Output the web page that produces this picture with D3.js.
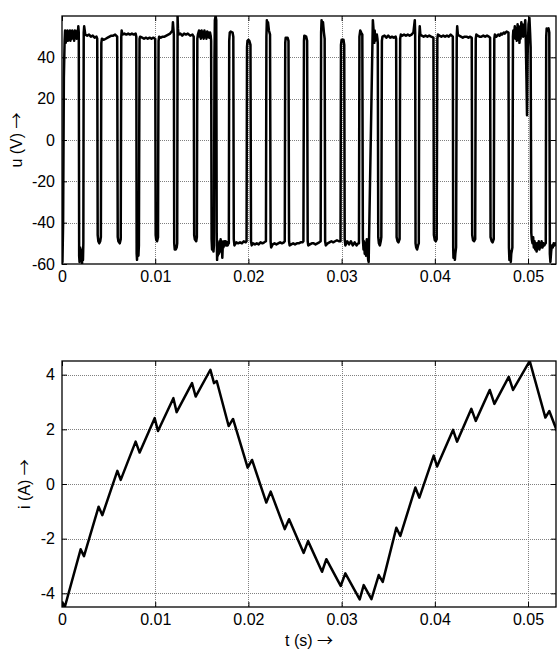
<!DOCTYPE html>
<html><head><meta charset="utf-8">
<script src="https://cdn.jsdelivr.net/npm/d3@7"></script>
<style>
html,body{margin:0;padding:0;background:#fff;}
svg{display:block;}
text{font-family:"Liberation Sans",Arial,Helvetica,sans-serif;fill:#000;}
</style></head><body>
<svg id="chart" width="557" height="651"></svg>
<script>
// Time axis (seconds)
const timeTicks = [0, 0.01, 0.02, 0.03, 0.04, 0.05];
const voltageTicks = [-60, -40, -20, 0, 20, 40];
const currentTicks = [-4, -2, 0, 2, 4];

// Converter output voltage u(t): [t (s), u (V)]
const voltage = [
  [0.0000,-56],[0.00005,-59],[0.00012,-40],[0.0002,30],[0.00028,48],[0.00033,53],[0.0004,47],[0.00045,52],
  [0.0005,49],[0.00058,53],[0.00065,48],[0.0007,52],[0.00078,50],[0.00085,53],[0.0009,48],[0.00098,51],
  [0.00105,49],[0.0011,53],[0.00118,50],[0.00125,52],[0.0013,48],[0.00138,53],[0.00145,50],[0.0015,52],
  [0.00158,49],[0.00165,53],[0.0017,51],[0.00175,55],
  [0.0018,52],[0.00184,-56],[0.00188,-59],[0.00195,-52],[0.002,-58],[0.0021,-54],[0.00215,-60],[0.0022,-53],
  [0.00225,-58],[0.00229,-50],[0.00233,52],[0.00238,55],
  [0.0025,51],[0.0027,50.5],[0.0029,51],[0.0031,50],[0.0033,50.5],[0.0035,49.5],[0.0037,50],
  [0.00378,49],[0.00383,-46],[0.0039,-49],[0.004,-50],[0.0041,-49],[0.00417,-47],[0.00422,47],[0.00428,49],
  [0.0045,48.5],[0.0047,49],[0.0049,49.5],[0.0051,50],[0.0053,50.5],[0.0055,50.5],[0.0057,51],
  [0.00592,50],[0.00598,-47],[0.00605,-49],[0.0062,-50],[0.0063,-48],[0.00636,50],[0.0064,53],[0.00648,51],
  [0.0067,51.5],[0.0069,51],[0.0071,51.5],[0.0073,51],[0.0075,51.5],[0.0077,51],[0.0079,51.5],
  [0.00797,50],[0.00801,-55],[0.00805,-58],[0.0081,-52],[0.0082,-56],[0.00825,-51],[0.00832,49],[0.00838,50],
  [0.0086,49.5],[0.0088,49],[0.009,49.5],[0.0092,49],[0.0094,49.5],[0.0096,49],[0.0098,49.5],
  [0.01,49],[0.01005,-46],[0.0101,-48],[0.0102,-49],[0.0103,-47],[0.01036,48],[0.01042,50],
  [0.0106,49.5],[0.0108,50],[0.011,50],[0.0112,50.5],[0.0114,51],[0.0116,51.5],[0.01185,53],[0.0119,57],
  [0.012,51],[0.01204,-50],[0.0121,-53],[0.0122,-53],[0.0123,-52],[0.01236,-50],[0.0124,60],[0.01244,54],[0.0125,51],
  [0.0127,51.5],[0.0129,50.5],[0.0131,51.5],[0.0133,51],[0.0135,51.5],[0.01375,50.5],[0.014,51],
  [0.01413,50],[0.01418,-46],[0.01425,-48],[0.0144,-49],[0.01447,-47],[0.01452,49],[0.01458,51],
  [0.0147,53],[0.01478,50],[0.01485,52.5],[0.0149,49],[0.01498,53],[0.01505,50],[0.01512,52],[0.0152,49],
  [0.01528,53],[0.01535,50.5],[0.01542,52],[0.0155,49],[0.01558,52.5],[0.01565,50],[0.01572,52],[0.0158,49.5],
  [0.01588,52],[0.01595,50.5],
  [0.016,48],[0.01605,-48],[0.0161,-53],[0.01618,-50],[0.01625,-54],[0.0163,-51],[0.01636,40],[0.0164,58],
  [0.01648,60],[0.01655,58],[0.0166,-45],[0.01664,-58],[0.01668,-52],[0.01672,-56],[0.01678,-50],[0.01684,-55],
  [0.0169,-49],[0.01696,-54],[0.01702,-48],[0.01708,-53],[0.01714,-49],[0.0172,-57],[0.01726,-50],[0.01732,-52],
  [0.0174,-49],[0.01748,-51],[0.01756,-49],[0.01764,-51],[0.0177,-49.5],[0.01778,-51],[0.01786,-50],
  [0.0179,-50],[0.01794,48],[0.018,52],[0.0181,52.5],[0.0183,52],[0.01838,50],[0.01843,-48],[0.0185,-51],
  [0.0187,-49.5],[0.0189,-50],[0.0191,-49.5],[0.0193,-50],[0.0195,-49],[0.0197,-49.5],
  [0.0198,-49],[0.01985,45],[0.0199,48],[0.02,48.5],[0.0201,48],[0.02022,46],[0.02028,-49],[0.02035,-51],
  [0.0205,-50],[0.0207,-50.5],[0.0209,-50],[0.0211,-50.5],[0.0213,-49.5],[0.0215,-50],[0.0217,-49.5],
  [0.02188,-49],[0.02193,50],[0.02198,58],[0.02205,54],[0.0221,57],[0.0222,53],[0.02232,51],[0.02238,-49],[0.02244,-52],
  [0.0226,-50.5],[0.0228,-50],[0.023,-50.5],[0.0232,-50],[0.0234,-49.5],[0.0236,-50],[0.0238,-49.5],
  [0.0239,-49],[0.02395,47],[0.024,49.5],[0.0242,49.5],[0.0243,48],[0.02436,-49],[0.02442,-51],
  [0.0246,-50.5],[0.0248,-50],[0.025,-50.5],[0.0252,-50],[0.0254,-50],[0.0256,-49.5],[0.0258,-49.5],
  [0.0259,-49],[0.02596,48],[0.026,50.5],[0.0262,50],[0.0263,48],[0.02636,-49],[0.02642,-51],
  [0.0266,-50.5],[0.0268,-50],[0.027,-50],[0.0272,-50.5],[0.0274,-50],[0.0276,-49.5],
  [0.02775,-49],[0.0278,52],[0.02785,58],[0.0279,54],[0.028,57],[0.0281,52],[0.02818,49],[0.02823,-49],[0.0283,-51],
  [0.0285,-50],[0.0287,-49.5],[0.0289,-49],[0.0291,-49.5],[0.0293,-49],[0.0295,-48.5],[0.0297,-49],
  [0.02988,-49],[0.02993,46],[0.03,48.5],[0.0302,48.5],[0.03028,46],[0.03033,-48],[0.0304,-51],
  [0.0306,-49],[0.0308,-50.5],[0.031,-49],[0.0312,-51],[0.0314,-49.5],[0.0316,-51],[0.03178,-50],
  [0.03186,-50],[0.03191,50],[0.032,53],[0.0321,52],[0.03222,51],[0.03228,-48],[0.03235,-53],[0.0324,-49],
  [0.03248,-55],[0.03255,-50],[0.03262,-56],[0.0327,-48],[0.03278,-54],[0.03285,-58],
  [0.0329,-59],[0.03335,58],[0.0334,55],
  [0.03345,52],[0.0335,47],[0.03355,53],[0.0336,48],[0.03365,51],[0.0337,49],[0.03378,51],[0.03384,49],
  [0.03388,47],[0.03393,-47],[0.034,-50],[0.0341,-51],[0.0342,-49],[0.03426,-47],[0.03432,48],[0.03438,50],
  [0.0346,50.5],[0.0348,49.5],[0.035,50.5],[0.0352,49.5],[0.0354,50],[0.0356,49.5],[0.0358,50],
  [0.03585,49],[0.0359,-47],[0.036,-49],[0.0361,-49.5],[0.03622,-48],[0.03628,49],[0.03635,51],
  [0.0365,50.5],[0.0367,51],[0.0369,50.5],[0.0371,51],[0.0373,50.5],[0.0375,51],[0.0377,52],[0.03785,58],
  [0.03789,52],[0.03793,-50],[0.038,-52],[0.0381,-53],[0.0382,-51],[0.03828,-50],[0.03833,50],[0.03838,55],[0.03845,51],
  [0.0386,50.5],[0.0388,50],[0.039,50.5],[0.0392,50],[0.0394,50.5],[0.0396,50],
  [0.03985,49.5],[0.0399,-46],[0.04,-48.5],[0.0401,-49],[0.0402,-48],[0.04027,49],[0.04033,51],
  [0.0405,50.5],[0.0407,50],[0.0409,50.5],[0.0411,50],[0.0413,50.5],[0.0415,50],[0.0417,51],
  [0.04193,50],[0.04197,-52],[0.042,-57],[0.0421,-54],[0.04215,-58],[0.0422,-55],[0.04228,-52],[0.04235,50],[0.0424,55],[0.04247,51],
  [0.0426,50.5],[0.0428,50],[0.043,49.5],[0.0432,50],[0.0434,50],[0.0436,49.5],[0.0438,50],
  [0.04396,49.5],[0.04401,-46],[0.0441,-48.5],[0.0442,-49],[0.04433,-48],[0.04439,49],[0.04445,51],
  [0.0446,50.5],[0.0448,50],[0.045,50],[0.0452,50.5],[0.0454,50],[0.0456,50.5],[0.0458,50],
  [0.04593,49.5],[0.04598,-47],[0.0461,-49],[0.0462,-49.5],[0.04632,-48],[0.04638,49],[0.04644,51],
  [0.0466,50],[0.0468,51],[0.04695,50.5],[0.0471,51.5],[0.0472,51],[0.0474,52],[0.0475,51.5],[0.0477,52.5],
  [0.0479,52],[0.04795,-52],[0.048,-58],[0.0481,-54],[0.04815,-59],[0.0482,-55],[0.04832,-52],[0.04838,50],[0.04842,53],
  [0.0485,51],[0.04858,55],[0.04865,49],[0.04872,54],[0.0488,48],[0.04888,56],[0.04895,50],[0.049,55],
  [0.04908,47],[0.04915,54],[0.0492,49],[0.04928,57],[0.04935,51],[0.0494,56],[0.04948,50],[0.04955,54],
  [0.0496,52],[0.0497,58],[0.04975,50],[0.04983,30],[0.04989,12],[0.04995,40],[0.05005,56],[0.05015,59],[0.05022,52],
  [0.05028,45],[0.05035,-45],[0.0504,-48],[0.05048,-50],[0.05055,-47],[0.05062,-52],[0.0507,-49],[0.05078,-53],
  [0.05085,-50],[0.05092,-54],[0.051,-50],[0.05108,-52],[0.05115,-49],[0.05122,-53],[0.0513,-50],[0.05138,-52],
  [0.05145,-49],[0.05155,-52],[0.05165,-50],[0.05175,-51],[0.05185,-50],
  [0.0519,-50],[0.05195,50],[0.052,54],[0.0521,53],[0.0522,54],[0.05228,52],[0.05234,-55],[0.0524,-59],
  [0.05248,-54],[0.05256,-51],[0.05265,-52],[0.05275,-50],[0.05285,-51],[0.05295,-50],[0.0531,-51]
];

// Load current i(t): [t (s), i (A)]
const current = [
  [0,-4.3],[0.0003,-4.5],[0.0020,-2.39],[0.00236,-2.64],[0.00393,-0.83],[0.00433,-1.14],
  [0.00594,0.48],[0.0063,0.15],[0.0079,1.55],[0.00833,1.15],[0.00994,2.41],[0.0103,1.94],
  [0.01195,3.14],[0.0123,2.63],[0.01395,3.69],[0.01434,3.20],[0.01592,4.18],[0.01631,3.69],
  [0.0166,3.77],[0.01788,2.12],[0.01835,2.38],[0.01992,0.60],[0.02039,0.88],[0.02192,-0.68],
  [0.02239,-0.28],[0.0239,-1.65],[0.02436,-1.29],[0.02593,-2.52],[0.0264,-2.09],[0.0279,-3.21],
  [0.02836,-2.75],[0.0299,-3.73],[0.0304,-3.27],[0.03194,-4.22],[0.03237,-3.70],[0.0332,-4.21],
  [0.03398,-3.33],[0.03441,-3.58],[0.03587,-1.60],[0.0363,-1.90],[0.03791,-0.13],[0.03834,-0.50],
  [0.03988,1.04],[0.04024,0.64],[0.04195,1.98],[0.04238,1.55],[0.04392,2.75],[0.04439,2.31],
  [0.04589,3.44],[0.04639,2.93],[0.04793,3.92],[0.04839,3.44],[0.05018,4.5],[0.05186,2.43],
  [0.05228,2.67],[0.0531,1.94]
];

const svg = d3.select("#chart");
const left = 62, right = 556;
const x = d3.scaleLinear().domain([0, 0.053]).range([left, right]);

const panels = [
  {id: "u", top: 16, bottom: 264, domain: [-60, 60], ticks: voltageTicks, data: voltage, label: "u (V) ", labelX: 16},
  {id: "i", top: 361, bottom: 607, domain: [-4.5, 4.5], ticks: currentTicks, data: current, label: "i (A) ", labelX: 24}
];

const fmt = d => String(d);

// axis title: plain text followed by a long thin arrow
function title(sel, text) {
  sel.append("tspan").text(text);
  sel.append("tspan").attr("font-family", "'Noto Sans CJK SC', 'DejaVu Sans', sans-serif")
    .attr("font-size", 16).text("\u2192");
}

panels.forEach(p => {
  const y = d3.scaleLinear().domain(p.domain).range([p.bottom, p.top]);
  const g = svg.append("g");

  svg.append("clipPath").attr("id", "clip-" + p.id)
    .append("rect").attr("x", left).attr("y", p.top)
    .attr("width", right - left).attr("height", p.bottom - p.top);

  // dotted grid
  const grid = g.append("g").attr("stroke", "#808080").attr("stroke-width", 1)
    .attr("stroke-dasharray", "1,1");
  grid.selectAll("line.v").data(timeTicks.filter(t => t > 0)).join("line")
    .attr("x1", d => Math.round(x(d)) + 0.5).attr("x2", d => Math.round(x(d)) + 0.5)
    .attr("y1", p.top).attr("y2", p.bottom);
  grid.selectAll("line.h").data(p.ticks.filter(v => v > p.domain[0] && v < p.domain[1])).join("line")
    .attr("y1", d => Math.round(y(d)) + 0.5).attr("y2", d => Math.round(y(d)) + 0.5)
    .attr("x1", left).attr("x2", right);

  // data trace
  const line = d3.line().x(d => x(d[0])).y(d => y(d[1]));
  g.append("path").datum(p.data)
    .attr("clip-path", "url(#clip-" + p.id + ")")
    .attr("fill", "none").attr("stroke", "#000").attr("stroke-width", 2.5)
    .attr("stroke-linejoin", "round").attr("d", line);

  // axes with inward ticks on all four sides
  const ax = (sel) => { sel.select(".domain").remove(); sel.selectAll("line").attr("stroke", "#000"); };
  g.append("g").attr("transform", `translate(0,${p.bottom})`)
    .call(d3.axisBottom(x).tickValues(timeTicks).tickFormat(fmt).tickSize(-5).tickPadding(7))
    .call(ax);
  g.append("g").attr("transform", `translate(0,${p.top})`)
    .call(d3.axisTop(x).tickValues(timeTicks).tickFormat("").tickSize(-5))
    .call(ax);
  g.append("g").attr("transform", `translate(${left},0)`)
    .call(d3.axisLeft(y).tickValues(p.ticks).tickFormat(fmt).tickSize(-5).tickPadding(7))
    .call(ax);
  g.append("g").attr("transform", `translate(${right},0)`)
    .call(d3.axisRight(y).tickValues(p.ticks).tickFormat("").tickSize(-5))
    .call(ax);
  g.selectAll(".tick text").attr("font-size", 16).attr("font-family", "'Liberation Sans', Arial, sans-serif");

  // frame
  g.append("rect").attr("x", left).attr("y", p.top)
    .attr("width", right - left).attr("height", p.bottom - p.top)
    .attr("fill", "none").attr("stroke", "#000").attr("stroke-width", 1.3);

  // y label
  svg.append("text")
    .attr("transform", `translate(${p.labelX},${(p.top + p.bottom) / 2}) rotate(-90)`)
    .attr("text-anchor", "middle").attr("dy", "0.35em")
    .attr("font-size", 16).call(title, p.label);
});

svg.append("text").attr("x", (left + right) / 2).attr("y", 646)
  .attr("text-anchor", "middle").attr("font-size", 16).call(title, "t (s) ");
</script>
</body></html>
